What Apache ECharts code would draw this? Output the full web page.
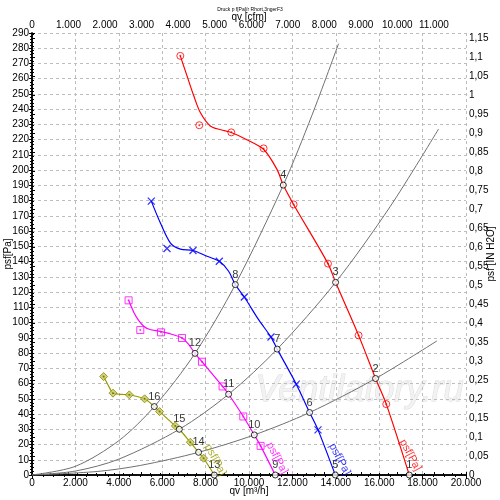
<!DOCTYPE html>
<html><head><meta charset="utf-8">
<script src="https://cdn.jsdelivr.net/npm/echarts@6/dist/echarts.min.js"></script>
<style>html,body{margin:0;padding:0;background:#fff}#c{width:500px;height:500px}</style>
</head><body><div id="c"></div>
<script>
// Fan curves (qv m3/h, psf Pa)
const redCurve = [[6834,275],[7140,262],[7450,249],[7750,238],[8215,229],[8700,226.5],[9184,224.7],[9900,220],[10670,213.7],[11290,200.5],[11580,190.2],[12055,177.5],[13640,138.7],[13990,126.4],[15050,91.6],[15833,63.3],[16326,46.5],[17386,0]];
const redMarks = [[6834,275],[7709,229.5],[9184,224.8],[10672,214.3],[12055,177.5],[13640,138.7],[15050,91.6],[16326,46.5]];
const blueCurve = [[5497,179.7],[5912,165.5],[6373,152.3],[6834,148.2],[7419,147.3],[8064,143.5],[8631,140.2],[9060,133.7],[9368,124.9],[9783,116.8],[10443,101.9],[11013,90.5],[11300,82.6],[12179,59.6],[12793,41],[13180,29.6],[13976,0]];
const blueMarks = [[5497,179.7],[6221,148.6],[7419,147.3],[8631,140.2],[9783,116.8],[11013,90.5],[12179,59.6],[13180,29.6]];
const magCurve = [[4451,114.6],[4700,106.5],[4912,101.5],[5150,97.6],[5400,95.6],[5912,94.2],[6400,92.5],[6912,89.9],[7200,86],[7511,79.8],[7834,74.3],[8783,58.1],[9060,53.0],[9737,38.4],[10244,26.3],[10534,19.1],[11211,0]];
const magMarks = [[4451,114.6],[4990,95.1],[5944,93.6],[6912,89.9],[7834,74.3],[8783,58.1],[9737,38.4],[10534,19.1]];
const oliveCurve = [[3300,64.6],[3600,56.5],[3733,53.7],[4100,52.9],[4484,52.6],[5189,50],[5636,44.9],[5880,41.6],[6603,32.2],[6788,30],[7295,21.5],[7677,14.9],[7908,11],[8401,0]];
const oliveMarks = [[3300,64.6],[3733,53.7],[4484,52.6],[5189,50],[5880,41.6],[6603,32.2],[7295,21.5],[7908,11]];
// System curves
const sysA = [[0,0],[2000,5.7],[4000,22.5],[5636,44.9],[7511,79.8],[9368,124.9],[11580,190.2],[12900,236],[14128,283]];
const sysB = [[0,0],[2000,2.6],[4000,10.4],[6788,30],[9060,53],[11300,82.6],[13990,126.4],[16500,176],[18737,227]];
const sysC = [[0,0],[3000,2.3],[5000,6.3],[7677,14.9],[10244,26.3],[12793,41],[15833,63.3],[18662,88]];
// Operating points with their numbers
const opPoints = [[17386,0,'1'],[15833,63.3,'2'],[13990,126.4,'3'],[11580,190.2,'4'],[13976,0,'5'],[12793,41,'6'],[11300,82.6,'7'],[9368,124.9,'8'],[11211,0,'9'],[10244,26.3,'10'],[9060,53,'11'],[7511,79.8,'12'],[8401,0,'13'],[7677,14.9,'14'],[6788,30,'15'],[5636,44.9,'16']];
// Curve name labels
const curveLabels = [[17432,13,'psf[Pa]','#ff0000'],[14175,10.3,'psf[Pa]','#0000ff'],[11290,11,'psf[Pa]','#ff00ff'],[8447,9.9,'psf[Pa]','#999900']];

const F = 'Liberation Sans, Arial, sans-serif';
const dotSeries = (data,color,z)=>({type:'scatter',data:data,symbol:'circle',symbolSize:2,itemStyle:{color:color},z:z||5,silent:true});
function thou(v){return String(Math.round(v)).replace(/\B(?=(\d{3})+(?!\d))/g,'.');}
function inch(v){const r=Math.round(v*100);if(r%5!==0)return '';let s=(r/100).toString();return s.replace('.',',');}
const gridLine={show:true,lineStyle:{color:'#bdbdbd',type:[3,3],width:1}};
const nameStyle={fontSize:10,color:'#000',fontFamily:F};
const chart = echarts.init(document.getElementById('c'));
chart.setOption({
  animation:false,
  textStyle:{fontFamily:F},
  title:{text:'Druck p f[Pa]/r Rhort,3ngerF3',left:'center',top:2,textStyle:{fontSize:5,fontWeight:'normal',color:'#000',fontFamily:F}},
  grid:{left:32,right:34,top:33,bottom:25,containLabel:false,outerBoundsMode:'none'},
  graphic:[{type:'text',left:255,top:372,z:-1,style:{text:'Ventilatory.ru',font:'italic 36px '+F,fill:'#f2f2f2',stroke:'#dcdcdc',lineWidth:1}}],
  xAxis:[
    {type:'value',min:0,max:20000,interval:2000,position:'bottom',name:'qv [m³/h]',nameLocation:'middle',nameGap:11,nameMoveOverlap:false,
     nameTextStyle:nameStyle,
     axisLine:{show:true,lineStyle:{color:'#000',width:1.5}},axisTick:{show:true,length:4,lineStyle:{color:'#000'}},
     minorTick:{show:true,splitNumber:4,length:2,lineStyle:{color:'#000'}},
     axisLabel:{fontSize:10,color:'#000',margin:3,formatter:thou,fontFamily:F},splitLine:gridLine},
    {type:'value',min:0,max:11880,interval:1000,position:'top',name:'qv [cfm]',nameLocation:'middle',nameGap:11,nameMoveOverlap:false,
     nameTextStyle:nameStyle,
     axisLine:{show:true,lineStyle:{color:'#000',width:1.5}},axisTick:{show:true,length:3,lineStyle:{color:'#000'}},
     minorTick:{show:true,splitNumber:4,length:2,lineStyle:{color:'#000'}},
     axisLabel:{fontSize:10,color:'#000',margin:3,formatter:thou,showMaxLabel:false,fontFamily:F},splitLine:{show:false}}
  ],
  yAxis:[
    {type:'value',min:0,max:290,interval:10,position:'left',name:'psf[Pa]',nameLocation:'middle',nameGap:19,nameRotate:90,nameMoveOverlap:false,
     nameTextStyle:nameStyle,
     axisLine:{show:true,lineStyle:{color:'#000',width:1.5}},axisTick:{show:true,length:3,lineStyle:{color:'#000'}},
     minorTick:{show:true,splitNumber:5,length:2,lineStyle:{color:'#000'}},
     axisLabel:{fontSize:10,color:'#000',margin:3,fontFamily:F},splitLine:gridLine},
    {type:'value',min:0,max:290/249.09,interval:0.05,position:'right',name:'psf [IN H2O]',nameLocation:'middle',nameGap:20,nameRotate:90,nameMoveOverlap:false,
     nameTextStyle:nameStyle,
     axisLine:{show:true,lineStyle:{color:'#000',width:1.5}},axisTick:{show:true,length:3,lineStyle:{color:'#000'}},
     minorTick:{show:true,splitNumber:5,length:2,lineStyle:{color:'#000'}},
     axisLabel:{fontSize:10,color:'#000',margin:3,formatter:inch,showMaxLabel:false,fontFamily:F},splitLine:{show:false}}
  ],
  series:[
    {type:'line',data:sysA,smooth:0.3,showSymbol:false,lineStyle:{color:'#707070',width:1},z:2,silent:true},
    {type:'line',data:sysB,smooth:0.3,showSymbol:false,lineStyle:{color:'#707070',width:1},z:2,silent:true},
    {type:'line',data:sysC,smooth:0.3,showSymbol:false,lineStyle:{color:'#707070',width:1},z:2,silent:true},
    {type:'line',data:redCurve,smooth:0.3,showSymbol:false,lineStyle:{color:'#ff0000',width:1.2},z:3,silent:true},
    {type:'line',data:blueCurve,smooth:0.3,showSymbol:false,lineStyle:{color:'#0000ff',width:1.2},z:3,silent:true},
    {type:'line',data:magCurve,smooth:0.3,showSymbol:false,lineStyle:{color:'#ff00ff',width:1.2},z:3,silent:true},
    {type:'line',data:oliveCurve,smooth:0.3,showSymbol:false,lineStyle:{color:'#999900',width:1.2},z:3,silent:true},
    {type:'scatter',data:redMarks,symbol:'circle',symbolSize:7,itemStyle:{color:'rgba(255,255,255,0)',borderColor:'#ff0000',borderWidth:1},z:4},
    dotSeries(redMarks,'#ff0000'),
    {type:'scatter',data:blueMarks,symbol:'path://M0,0L10,10M10,0L0,10',symbolSize:7,itemStyle:{color:'none',borderColor:'#0000ff',borderWidth:1.3},z:4},
    {type:'scatter',data:magMarks,symbol:'rect',symbolSize:7,itemStyle:{color:'rgba(255,255,255,0)',borderColor:'#ff00ff',borderWidth:1},z:4},
    dotSeries(magMarks,'#ff00ff'),
    {type:'scatter',data:oliveMarks,symbol:'diamond',symbolSize:8,itemStyle:{color:'#c8c860',borderColor:'#888800',borderWidth:1},z:4},
    dotSeries(oliveMarks,'#666600'),
    {type:'scatter',data:opPoints,symbol:'circle',symbolSize:6,itemStyle:{color:'#ffffff',borderColor:'#000',borderWidth:1},z:6,
     label:{show:true,position:'top',distance:1,formatter:p=>p.value[2],fontSize:11,color:'#000',fontFamily:F}},
    {type:'scatter',data:curveLabels.map(d=>({value:[d[0],d[1]],label:{color:d[3]},name:d[2]})),symbolSize:0,z:6,silent:true,
     label:{show:true,position:'inside',rotate:-62,formatter:p=>p.name,fontSize:11,fontFamily:F}}
  ]
});
</script></body></html>
